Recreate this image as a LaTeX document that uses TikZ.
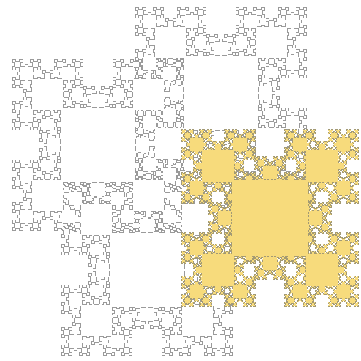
\documentclass[tikz,border=0pt]{standalone}
\usepackage{tikz}
\definecolor{tilegold}{HTML}{F7DB7C}
\definecolor{tileedge}{HTML}{A39A74}
\definecolor{tilegray}{HTML}{9A9A9A}

% one piece of a tile: level, centre x, centre y, side
\newcommand\sqpiece[4]{%
  \path[sqpart] (#2-#4/2,#3-#4/2) rectangle (#2+#4/2,#3+#4/2);
  \ifnum#1>0
    \foreach \dx/\dy in {1/1,1/-1,-1/1,-1/-1}{%
      \pgfmathsetmacro\px{#2+(\dx)*0.68*#4}%
      \pgfmathsetmacro\py{#3+(\dy)*0.68*#4}%
      \pgfmathsetmacro\ps{0.42*#4}%
      \pgfmathtruncatemacro\pl{#1-1}%
      \edef\pnext{\noexpand\sqpiece{\pl}{\px}{\py}{\ps}}\pnext}%
  \fi
  \ifnum#1>1
    \foreach \dx/\dy in {1/0,-1/0,0/1,0/-1}{%
      \pgfmathsetmacro\px{#2+(\dx)*0.6*#4}%
      \pgfmathsetmacro\py{#3+(\dy)*0.6*#4}%
      \pgfmathsetmacro\ps{0.18*#4}%
      \pgfmathtruncatemacro\pl{#1-2}%
      \edef\pnext{\noexpand\sqpiece{\pl}{\px}{\py}{\ps}}\pnext}%
  \fi}

\begin{document}
\begin{tikzpicture}[
  x=1pt, y=-1pt,
  grayline/.style={sqpart/.style={draw=tilegray, line width=1.5pt}},
  grayfill/.style={sqpart/.style={fill=white}},
  goldline/.style={sqpart/.style={draw=tileedge, line width=1.2pt}},
  goldfill/.style={sqpart/.style={fill=tilegold}},
]
\useasboundingbox (0,0) rectangle (360,361);

% gray tiles: outlines, then insides
\begin{scope}[grayline]
  \foreach \cx/\cy in {98/145, 221/93, 147/270}{
    \sqpiece{4}{\cx}{\cy}{74}
  }
\end{scope}
\begin{scope}[grayfill]
  \foreach \cx/\cy in {98/145, 221/93, 147/270}{
    \sqpiece{4}{\cx}{\cy}{74}
  }
\end{scope}

% gold tile
\begin{scope}[goldline]
  \sqpiece{5}{270}{218}{76}
\end{scope}
\begin{scope}[goldfill]
  \sqpiece{5}{270}{218}{76}
\end{scope}
\end{tikzpicture}
\end{document}
